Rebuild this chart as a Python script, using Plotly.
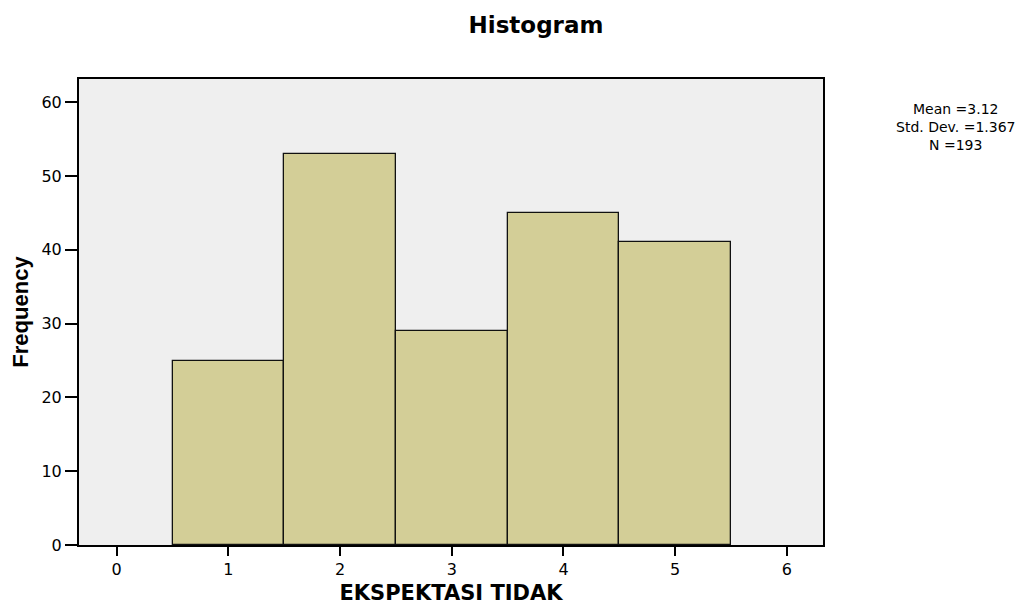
import plotly.graph_objects as go

categories = [1, 2, 3, 4, 5]
frequencies = [25, 53, 29, 45, 41]
x_ticks = [0, 1, 2, 3, 4, 5, 6]
y_ticks = [0, 10, 20, 30, 40, 50, 60]
stats_text = "Mean =3.12<br>Std. Dev. =1.367<br>N =193"

# page has an 8px body margin, so figure coords = page coords - 8
OFF = 8
W, H = 1030 - OFF, 605 - OFF
L, R, T, B = 79 - OFF, 823 - OFF, 79 - OFF, 545 - OFF

fig = go.Figure()
fig.add_trace(go.Bar(
    x=categories, y=frequencies, width=1,
    marker=dict(color="#d3ce97", line=dict(color="#111111", width=1.3)),
    showlegend=False,
))

font_wide = "DejaVu Sans, Liberation Sans, Arial, sans-serif"
font_arial = "Liberation Sans, Arial, sans-serif"
fig.update_layout(
    width=W, height=H,
    margin=dict(l=L, r=W - R, t=T, b=H - B),
    paper_bgcolor="white", plot_bgcolor="#efefef",
    bargap=0,
    title=dict(text="<b>Histogram</b>", x=(536 - OFF) / W, xanchor="center",
               y=1 - (25 - OFF) / H, yanchor="middle",
               font=dict(family=font_wide, size=23, color="black")),
    font=dict(family=font_wide, color="black"),
)
fig.update_xaxes(
    range=[-0.337, 6.323], tickvals=x_ticks, ticks="outside", ticklen=9,
    tickwidth=2, tickcolor="black", showgrid=False, zeroline=False,
    showline=True, linecolor="black", linewidth=2, mirror=True,
    automargin=False,
    tickfont=dict(family=font_wide, size=16),
    title=dict(text="<b>EKSPEKTASI TIDAK</b>", standoff=7,
               font=dict(family=font_wide, size=21)),
)
fig.update_yaxes(
    range=[0, 63.15], tickvals=y_ticks, ticks="outside", ticklen=12,
    tickwidth=2, tickcolor="black", showgrid=False, zeroline=False,
    showline=True, linecolor="black", linewidth=2, mirror=True,
    automargin=False,
    tickfont=dict(family=font_wide, size=16),
    title=dict(text="<b>Frequency</b>", standoff=10,
               font=dict(family=font_arial, size=22)),
)
fig.add_annotation(
    text=stats_text, xref="paper", yref="paper",
    x=(955 - OFF - L) / (R - L), y=1 - (127 - OFF - T) / (B - T),
    xanchor="center", yanchor="middle",
    showarrow=False, align="center",
    font=dict(family=font_wide, size=14, color="black"),
)
fig.write_html("out.html")
